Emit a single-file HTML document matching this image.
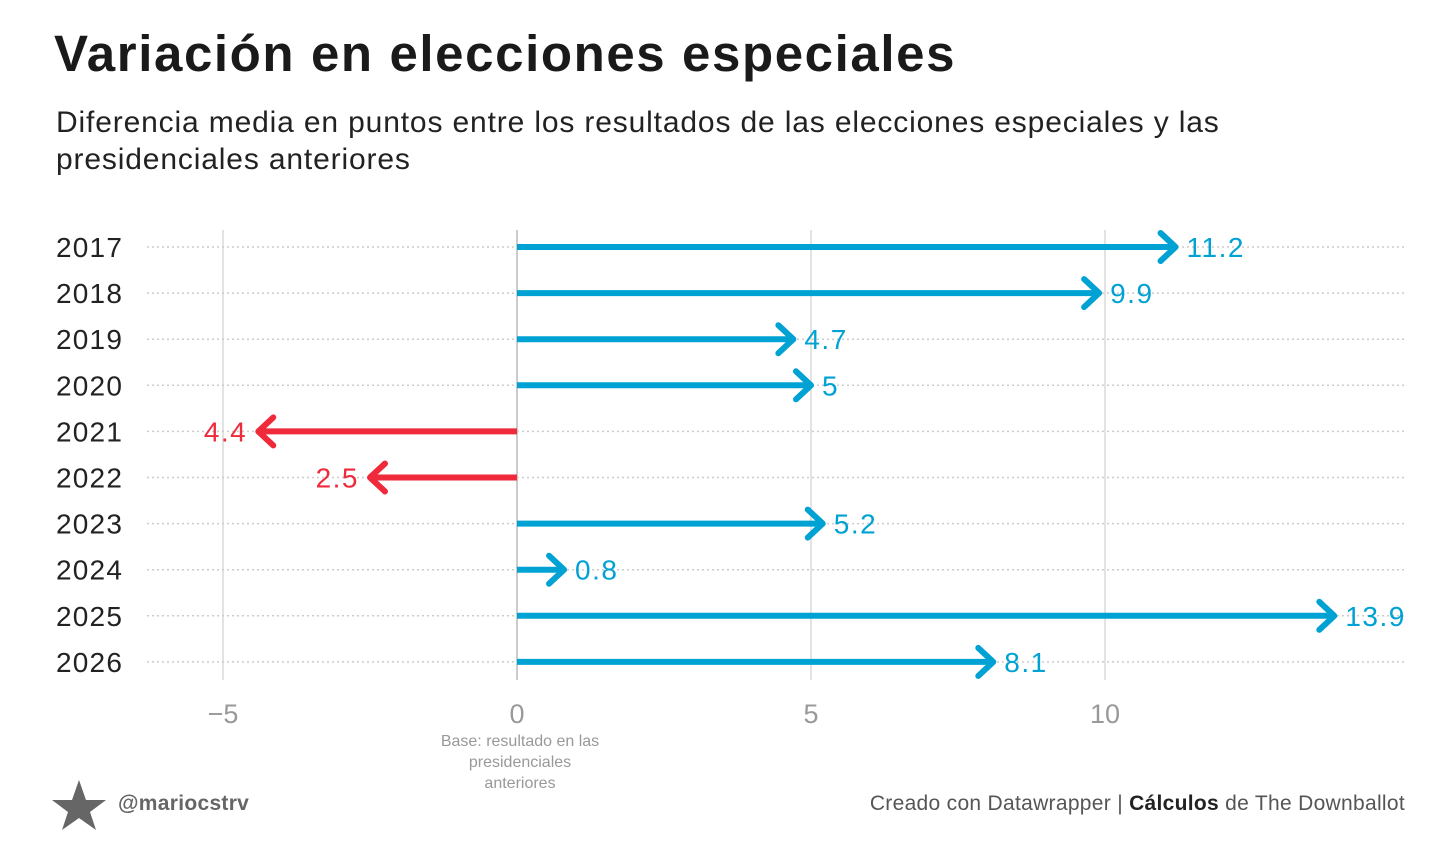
<!DOCTYPE html>
<html><head><meta charset="utf-8">
<style>
body{margin:0;background:#fff;width:1456px;height:859px;overflow:hidden;font-family:"Liberation Sans",sans-serif;}
.title{position:absolute;left:54px;top:24px;font-size:51px;font-weight:bold;color:#1a1a1a;letter-spacing:1.6px;white-space:nowrap;}
.sub{position:absolute;left:56px;top:104px;font-size:30px;color:#222;line-height:37px;width:1300px;letter-spacing:0.85px;}
svg{position:absolute;left:0;top:0;}
.foot{position:absolute;top:792px;font-size:21px;color:#555;letter-spacing:0.3px;}
</style></head><body>
<div class="title">Variación en elecciones especiales</div>
<div class="sub">Diferencia media en puntos entre los resultados de las elecciones especiales y las<br>presidenciales anteriores</div>
<svg width="1456" height="859" id="chart"></svg>
<div class="foot" style="left:118px;font-weight:bold;color:#666;">@mariocstrv</div>
<div class="foot" style="right:51px;">Creado con Datawrapper | <b style="color:#222">Cálculos</b> de The Downballot</div>
<script>
const years=["2017","2018","2019","2020","2021","2022","2023","2024","2025","2026"];
const values=[11.2,9.9,4.7,5,-4.4,-2.5,5.2,0.8,13.9,8.1];
const ticks=[-5,0,5,10];
const NS="http://www.w3.org/2000/svg";
const svg=document.getElementById('chart');
const xs=v=>517+v*58.8;
const ys=i=>247+i*46.1;
function mk(t,a){const e=document.createElementNS(NS,t);for(const k in a)e.setAttribute(k,a[k]);svg.appendChild(e);return e;}
ticks.forEach(t=>{
  const l=mk('line',{x1:xs(t),x2:xs(t),y1:230,y2:680,stroke:t===0?'#ccc':'#e3e3e3','stroke-width':2});
  
  
  const tx=mk('text',{x:xs(t),y:723,'text-anchor':'middle','font-size':27,fill:'#999','font-family':'Liberation Sans'});
  tx.textContent=t<0?'\u2212'+Math.abs(t):t;
  
  
});
["Base: resultado en las","presidenciales","anteriores"].forEach((s,i)=>{
  const t=mk('text',{x:520,y:746+i*21,'text-anchor':'middle','font-size':16,fill:'#999','font-family':'Liberation Sans'});
  t.textContent=s;
  
  
});
years.forEach((y,i)=>{
  const yy=ys(i),v=values[i],col=v>=0?'#00a2d4':'#ee2a3b';
  const g=mk('line',{x1:147,x2:1404,y1:yy,y2:yy,stroke:'#ccc','stroke-width':1.5,'stroke-dasharray':'2 3'});
  
  
  const lab=mk('text',{x:56,y:yy+10,'font-size':28,fill:'#222','font-family':'Liberation Sans','letter-spacing':'1.2'});
  lab.textContent=y;
  
  
  const x0=xs(0),x1=xs(v),d=v>=0?1:-1;
  const ln=mk('line',{x1:x0,x2:x1-d*3,y1:yy,y2:yy,stroke:col,'stroke-width':6});
  
  
  const hd=mk('polyline',{points:`${x1-d*15},${yy-14} ${x1},${yy} ${x1-d*15},${yy+14}`,fill:'none',stroke:col,'stroke-width':6,'stroke-linecap':'round','stroke-linejoin':'round'});
  
  
  const vt=mk('text',{x:x1+d*11,y:yy+10,'text-anchor':v>=0?'start':'end','font-size':28,fill:col,'font-family':'Liberation Sans','letter-spacing':'1.5'});
  vt.textContent=Math.abs(v);
  
  
});
const star=mk('polygon',{points:"79,780 86,800 106,800 90,812 96,830 79,818 62,830 68,812 52,800 72,800",fill:'#666'});


</script>
</body></html>
